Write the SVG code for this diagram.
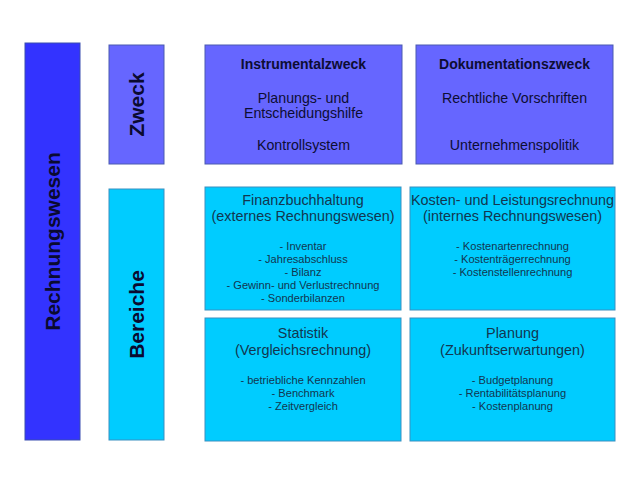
<svg xmlns="http://www.w3.org/2000/svg" width="638" height="479" viewBox="0 0 638 479">
<style>
text{font-family:"Liberation Sans",Arial,sans-serif;text-anchor:middle}
.dark{fill:#3333ff;stroke:#3a4fb0;stroke-width:1}
.mid{fill:#6666ff;stroke:#4a5ab0;stroke-width:1}
.cyan{fill:#00ccff;stroke:#3a8fc0;stroke-width:1}
.side{font-size:21px;font-weight:bold;fill:#0a0a30}
.hb{font-size:14px;font-weight:bold;fill:#0d0d33}
.t14b{font-size:14.2px;fill:#0d0d33}
.t14c{font-size:14.4px;fill:#123650}
.t11c{font-size:11.1px;fill:#123650}
</style>
<rect width="638" height="479" fill="#ffffff"/>
<g id="rechnungswesen">
<rect class="dark" x="25" y="43" width="55" height="397"/>
<text class="side" transform="translate(60,241.5) rotate(-90)">Rechnungswesen</text>
</g>
<g id="zweck">
<rect class="mid" x="109" y="45" width="55" height="119"/>
<text class="side" transform="translate(144,104.5) rotate(-90)">Zweck</text>
</g>
<g id="bereiche">
<rect class="cyan" x="109" y="189" width="55" height="251"/>
<text class="side" transform="translate(144,314.5) rotate(-90)">Bereiche</text>
</g>
<g id="instrumentalzweck">
<rect class="mid" x="205" y="45" width="197" height="119"/>
<text class="hb" x="303.5" y="69">Instrumentalzweck</text>
<text class="t14b" x="303.5" y="103">Planungs- und</text>
<text class="t14b" x="303.5" y="118">Entscheidungshilfe</text>
<text class="t14b" x="303.5" y="150">Kontrollsystem</text>
</g>
<g id="dokumentationszweck">
<rect class="mid" x="416" y="45" width="197" height="119"/>
<text class="hb" x="514.5" y="69">Dokumentationszweck</text>
<text class="t14b" x="514.5" y="103">Rechtliche Vorschriften</text>
<text class="t14b" x="514.5" y="150">Unternehmenspolitik</text>
</g>
<g id="finanzbuchhaltung">
<rect class="cyan" x="205" y="187" width="196" height="123"/>
<text class="t14c" x="303" y="205">Finanzbuchhaltung</text>
<text class="t14c" x="303" y="221">(externes Rechnungswesen)</text>
<text class="t11c" x="303" y="250">- Inventar</text>
<text class="t11c" x="303" y="263">- Jahresabschluss</text>
<text class="t11c" x="303" y="276">- Bilanz</text>
<text class="t11c" x="303" y="289">- Gewinn- und Verlustrechnung</text>
<text class="t11c" x="303" y="302">- Sonderbilanzen</text>
</g>
<g id="kostenrechnung">
<rect class="cyan" x="410" y="187" width="205" height="123"/>
<text class="t14c" x="512.5" y="205">Kosten- und Leistungsrechnung</text>
<text class="t14c" x="512.5" y="221">(internes Rechnungswesen)</text>
<text class="t11c" x="512.5" y="250">- Kostenartenrechnung</text>
<text class="t11c" x="512.5" y="263">- Kostenträgerrechnung</text>
<text class="t11c" x="512.5" y="276">- Kostenstellenrechnung</text>
</g>
<g id="statistik">
<rect class="cyan" x="205" y="318" width="196" height="123"/>
<text class="t14c" x="303" y="338">Statistik</text>
<text class="t14c" x="303" y="355">(Vergleichsrechnung)</text>
<text class="t11c" x="303" y="384">- betriebliche Kennzahlen</text>
<text class="t11c" x="303" y="397">- Benchmark</text>
<text class="t11c" x="303" y="410">- Zeitvergleich</text>
</g>
<g id="planung">
<rect class="cyan" x="410" y="318" width="205" height="123"/>
<text class="t14c" x="512.5" y="338">Planung</text>
<text class="t14c" x="512.5" y="355">(Zukunftserwartungen)</text>
<text class="t11c" x="512.5" y="384">- Budgetplanung</text>
<text class="t11c" x="512.5" y="397">- Rentabilitätsplanung</text>
<text class="t11c" x="512.5" y="410">- Kostenplanung</text>
</g>
</svg>
